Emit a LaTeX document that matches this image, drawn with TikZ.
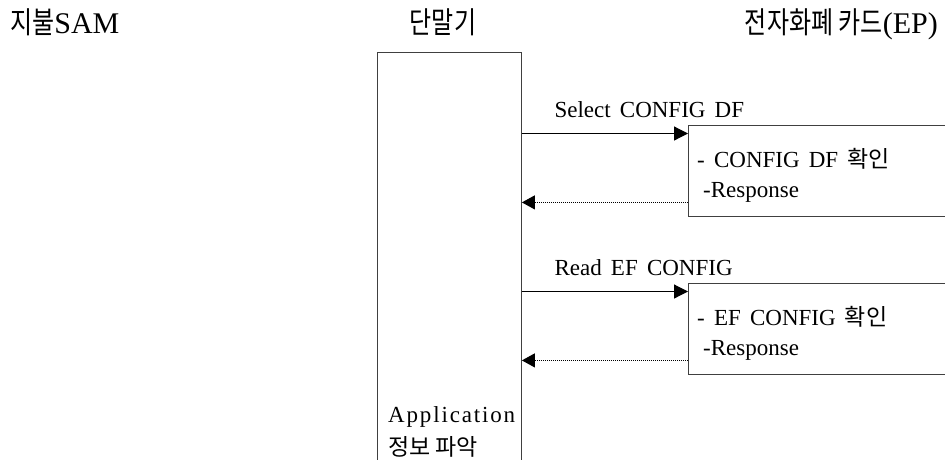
\documentclass[tikz,border=0pt]{standalone}
\usepackage{fontspec}
\setmainfont{Liberation Serif}[WordSpace=1.6]
\newfontfamily\kr{Noto Sans CJK KR}
\newfontfamily\krhead{Noto Sans CJK KR}[FakeStretch=0.8]
\usetikzlibrary{arrows.meta,positioning}

\begin{document}
\begin{tikzpicture}[x=1pt, y=-1pt,
    box/.style={draw=black!75, line width=0.9pt, inner sep=0pt},
    head/.style={font=\fontsize{30}{34}\selectfont, inner sep=0pt},
    txt/.style={font=\fontsize{23}{30}\selectfont, inner sep=0pt},
    req/.style={-{Triangle[length=14pt,width=14pt]}, line width=1.2pt},
    resp/.style={-{Triangle[length=13pt,width=14pt]}, line width=1.2pt, dash pattern=on 1pt off 1pt}]

\useasboundingbox (0,0) rectangle (945,459);
\clip (0,0) rectangle (945,459);

% Headers
\node[head, anchor=base west] (sam) at (10,33) {{\krhead 지불}SAM};
\node[head, anchor=base] (terminal) at (443,33) {\krhead 단말기};
\node[head, anchor=base east] (card) at (938,33) {{\krhead 전자화폐 카드}(EP)};

% Terminal
\node[box, minimum width=144pt, minimum height=440pt, anchor=north west] (term) at (377,52) {};
\node[txt, anchor=base west] (app) at ([xshift=11pt, yshift=-370pt]term.north west)
    {\addfontfeatures{LetterSpace=8}Application};
\node[txt, anchor=base west] (info) at ([yshift=-33pt]app.base west) {\kr 정보 파악};

% Cards and messages
\foreach \i/\y/\cmd/\obj in {1/125/Select CONFIG DF/CONFIG DF, 2/283/Read EF CONFIG/EF CONFIG}
{
    \node[box, minimum width=270pt, minimum height=90.5pt, anchor=north west] (Card-\i) at (688,\y) {};
    \node[txt, anchor=base west] (Check-\i) at ([xshift=9pt, yshift=-42.5pt]Card-\i.north west)
        {- \obj\ {\kr 확인}};
    \node[txt, anchor=base west] (Resp-\i) at ([xshift=6pt, yshift=-29.5pt]Check-\i.base west) {-Response};
    \draw[req] ([yshift=-8.5pt]Card-\i.north west -| term.east) -- ([yshift=-8.5pt]Card-\i.north west)
        node[txt, pos=0, anchor=base west, xshift=32pt, yshift=16.5pt] (Cmd-\i) {\cmd};
    \draw[resp] ([yshift=14pt]Card-\i.south west) -- ([yshift=14pt]Card-\i.south west -| term.east);
}

\end{tikzpicture}
\end{document}
